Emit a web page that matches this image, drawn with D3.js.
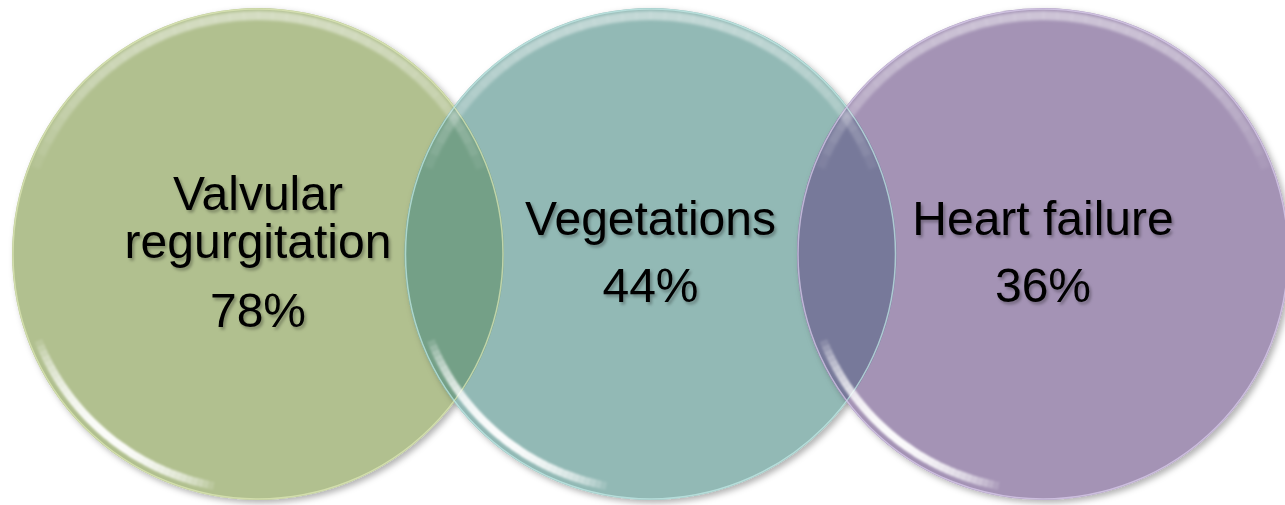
<!DOCTYPE html>
<html>
<head>
<meta charset="utf-8">
<script src="https://cdn.jsdelivr.net/npm/d3@7"></script>
<style>
  html, body { margin: 0; padding: 0; background: #fff; }
  svg { display: block; }
  .label { font-family: "Liberation Sans", Arial, sans-serif; font-size: 48px; fill: #000; }
</style>
</head>
<body>
<svg id="svg-venn" width="1285" height="505"></svg>
<script>
// data
var categories = ["Valvular regurgitation", "Vegetations", "Heart failure"];
var labelLines = [["Valvular", "regurgitation"], ["Vegetations"], ["Heart failure"]];
var percents = [78, 44, 36];
var colors = ["#b1c08f", "#92b9b5", "#a493b5"];
var rimColors = ["#dfeab8", "#c4ecea", "#ddd0f0"];
var lensColors = ["#74a087", "#77799a"];

var svg = d3.select("#svg-venn");
var radius = 246;
var cy = 254;

// centres of the circles along x
var xScale = d3.scalePoint()
  .domain(categories)
  .range([258, 1043]);

var defs = svg.append("defs");

// soft shadow under each disc
var sh = defs.append("filter").attr("id", "shadow")
  .attr("x", "-10%").attr("y", "-10%").attr("width", "120%").attr("height", "120%");
sh.append("feDropShadow").attr("dx", 3).attr("dy", 3).attr("stdDeviation", 3)
  .attr("flood-color", "#000").attr("flood-opacity", 0.3);

var blur = defs.append("filter").attr("id", "blur")
  .attr("x", "-20%").attr("y", "-20%").attr("width", "140%").attr("height", "140%");
blur.append("feGaussianBlur").attr("stdDeviation", 1.8);

var blur2 = defs.append("filter").attr("id", "blur2")
  .attr("x", "-20%").attr("y", "-20%").attr("width", "140%").attr("height", "140%");
blur2.append("feGaussianBlur").attr("stdDeviation", 0.9);

var tsh = defs.append("filter").attr("id", "textShadow")
  .attr("x", "-10%").attr("y", "-20%").attr("width", "120%").attr("height", "150%");
tsh.append("feDropShadow").attr("dx", 2).attr("dy", 2.5).attr("stdDeviation", 1.6)
  .attr("flood-color", "#000").attr("flood-opacity", 0.3);

// clip paths for each circle (used to build the overlap lenses)
defs.selectAll("clipPath")
  .data(categories)
  .enter()
  .append("clipPath")
  .attr("id", function(d, i) { return "clip" + i; })
  .append("circle")
  .attr("cx", function(d) { return xScale(d); })
  .attr("cy", cy)
  .attr("r", radius);

// base discs
svg.selectAll("discs")
  .data(categories)
  .enter()
  .append("circle")
  .attr("class", "discs")
  .attr("cx", function(d) { return xScale(d); })
  .attr("cy", cy)
  .attr("r", radius)
  .attr("fill", function(d, i) { return colors[i]; })
  .attr("filter", "url(#shadow)");

// overlap lenses: circle i+1 clipped by circle i
svg.selectAll("lenses")
  .data(lensColors)
  .enter()
  .append("circle")
  .attr("class", "lenses")
  .attr("clip-path", function(d, i) { return "url(#clip" + i + ")"; })
  .attr("cx", function(d, i) { return xScale(categories[i + 1]); })
  .attr("cy", cy)
  .attr("r", radius)
  .attr("fill", function(d) { return d; });

// thin light rim on each disc
svg.selectAll("rims")
  .data(categories)
  .enter()
  .append("circle")
  .attr("class", "rims")
  .attr("cx", function(d) { return xScale(d); })
  .attr("cy", cy)
  .attr("r", radius - 1)
  .attr("fill", "none")
  .attr("stroke", function(d, i) { return rimColors[i]; })
  .attr("stroke-opacity", 0.7)
  .attr("stroke-width", 1.5);

// glossy streak made of short arc pieces that fade towards both ends
function gloss(sel, inner, outer, a0, a1, peak, filterId) {
  var n = 40;
  var pieces = d3.range(n).map(function(k) {
    var t = (k + 0.5) / n;
    return {
      start: a0 + (a1 - a0) * k / n,
      end: a0 + (a1 - a0) * (k + 1) / n + 0.002,
      op: peak * Math.pow(Math.sin(Math.PI * t), 0.6)
    };
  });
  var arc = d3.arc().innerRadius(inner).outerRadius(outer)
    .startAngle(function(p) { return p.start; })
    .endAngle(function(p) { return p.end; });
  sel.append("g")
    .attr("filter", "url(#" + filterId + ")")
    .selectAll("path")
    .data(pieces)
    .enter()
    .append("path")
    .attr("d", arc)
    .attr("fill", "#fff")
    .attr("fill-opacity", function(p) { return p.op; });
}

var glossGroups = svg.selectAll("glossGroups")
  .data(categories)
  .enter()
  .append("g")
  .attr("class", "glossGroups")
  .attr("transform", function(d) { return "translate(" + xScale(d) + "," + cy + ")"; });

glossGroups.each(function() {
  var g = d3.select(this);
  gloss(g, radius - 12, radius - 3, -1.2, 1.2, 0.45, "blur");                     // top band
  gloss(g, radius - 14, radius - 6, Math.PI * 1.06, Math.PI * 1.38, 0.95, "blur2"); // bottom-left streak
});

// labels
var lineHeight = 48;
var labels = svg.selectAll("labels")
  .data(categories)
  .enter()
  .append("text")
  .attr("class", "label")
  .attr("text-anchor", "middle")
  .attr("filter", "url(#textShadow)");

labels.each(function(d, i) {
  var t = d3.select(this);
  var lines = labelLines[i];
  var first = lines.length > 1 ? 210 : 235;
  lines.forEach(function(line, j) {
    t.append("tspan")
      .attr("x", xScale(d))
      .attr("y", first + j * lineHeight)
      .text(line);
  });
  t.append("tspan")
    .attr("x", xScale(d))
    .attr("y", lines.length > 1 ? 327 : 302)
    .text(percents[i] + "%");
});
</script>
</body>
</html>
